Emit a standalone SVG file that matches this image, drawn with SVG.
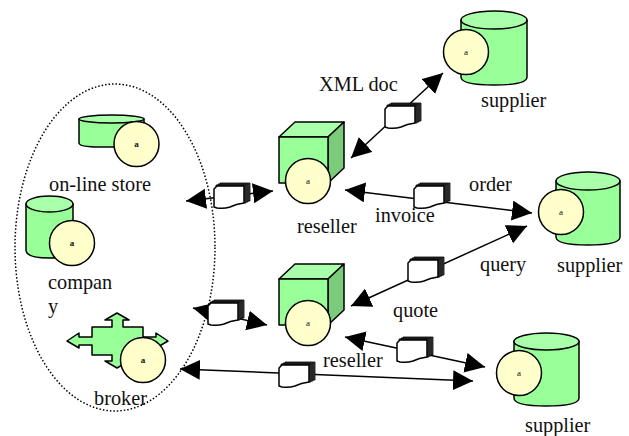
<svg xmlns="http://www.w3.org/2000/svg" width="629" height="436" viewBox="0 0 629 436">
<style>
text{font-family:"Liberation Serif","Times New Roman",serif;font-size:20.300px;fill:#111}
.a{font-size:9px;text-anchor:middle}
.b{fill:#99ff99;stroke:#000;stroke-width:1.5;stroke-linejoin:round}
.t{fill:#aaffaa;stroke:#000;stroke-width:1.5;stroke-linejoin:round}
.s{fill:#7acc7a;stroke:#000;stroke-width:1.5;stroke-linejoin:round}
.c{fill:#ffffcc;stroke:#000;stroke-width:1.500}
.l{fill:none;stroke:#000;stroke-width:1.500;marker-start:url(#h);marker-end:url(#h)}
.d{fill:#444;stroke:#000;stroke-width:.8}
</style>
<defs>
<marker id="h" markerUnits="userSpaceOnUse" markerWidth="22" markerHeight="22" refX="20" refY="10" orient="auto-start-reverse" viewBox="0 0 22 22"><path d="M0 0L20 10L0 20Z" fill="#000"/></marker>
<g id="doc">
<path class="d" d="M6 0H36V18H6Z"/>
<path class="d" d="M4 1H34V19H4Z"/>
<path class="d" d="M2 2H32V20H2Z"/>
<path d="M0 6L3 3H30V20Q22 21 16 24Q10 26 3 25L0 24Z" fill="#fff" stroke="#000" stroke-width="1.500" stroke-linejoin="round"/>
</g>
</defs>
<ellipse id="boundary" cx="115" cy="247.500" rx="100" ry="163.500" fill="none" stroke="#000" stroke-width="1.500" stroke-dasharray="1.500 2"/>
<g id="connectors">
<line class="l" x1="351" y1="158" x2="443" y2="73"/>
<line class="l" x1="186" y1="201" x2="273" y2="191"/>
<line class="l" x1="345" y1="190" x2="532" y2="213"/>
<line class="l" x1="351" y1="306" x2="527" y2="226"/>
<line class="l" x1="193" y1="308" x2="267" y2="325"/>
<line class="l" x1="345" y1="337" x2="485" y2="367"/>
<line class="l" x1="180" y1="369" x2="473" y2="381"/>
<use href="#doc" x="385" y="103"/>
<use href="#doc" x="214" y="183"/>
<use href="#doc" x="414" y="183"/>
<use href="#doc" x="208" y="300"/>
<use href="#doc" x="408" y="257"/>
<use href="#doc" x="397" y="337"/>
<use href="#doc" x="279" y="362"/>
</g>
<g id="online-store">
<path class="b" d="M79 119V143Q79 147 100 147H144V119Z"/>
<ellipse class="t" cx="111.500" cy="119" rx="32.500" ry="4"/>
<circle class="c" cx="136.500" cy="144" r="22.500"/>
<text class="a" x="136.500" y="147" font-weight="bold">a</text>
<text x="49" y="191">on-line store</text>
</g>
<g id="company">
<path class="b" d="M26 204V250Q26 258 49 258Q73 258 73 250V204Z"/>
<ellipse class="t" cx="49.500" cy="204" rx="23.500" ry="8"/>
<circle class="c" cx="72" cy="243" r="22.500"/>
<text class="a" x="72" y="246" font-weight="bold">a</text>
<text x="48" y="289">compan</text>
<text x="48" y="313">y</text>
</g>
<g id="broker">
<path class="b" d="M117 313L129 320H123V327H143V337H156V333L168 341L156 348V345H143V355H123V361H129L117 368L105 361H112V355H92V345H79V348L67 341L79 333V337H92V327H112V320H105Z"/>
<circle class="c" cx="143" cy="360" r="22.500"/>
<text class="a" x="143" y="363" font-weight="bold">a</text>
<text x="94" y="405">broker</text>
</g>
<g id="reseller-1">
<path class="t" d="M279 137L295 122H344L328 137Z"/>
<path class="s" d="M328 137L344 122V168L328 183Z"/>
<rect class="b" x="279" y="137" width="49" height="46"/>
<circle class="c" cx="308" cy="181" r="22.500"/>
<text class="a" x="308" y="184">a</text>
<text x="297" y="233">reseller</text>
</g>
<g id="reseller-2">
<path class="t" d="M279 279L295 264H344L328 279Z"/>
<path class="s" d="M328 279L344 264V310L328 325Z"/>
<rect class="b" x="279" y="279" width="49" height="46"/>
<circle class="c" cx="308" cy="323" r="22.500"/>
<text class="a" x="308" y="326">a</text>
<text x="323" y="367">reseller</text>
</g>
<g id="supplier-1">
<path class="b" d="M461 20V77Q461 85 494 85Q527 85 527 77V20Z"/>
<ellipse class="t" cx="494" cy="20" rx="33" ry="9"/>
<circle class="c" cx="466" cy="52" r="22.500"/>
<text class="a" x="466" y="55">a</text>
<text x="481" y="107">supplier</text>
</g>
<g id="supplier-2">
<path class="b" d="M556 181V237Q556 245 588 245Q620 245 620 237V181Z"/>
<ellipse class="t" cx="588" cy="181" rx="32" ry="9"/>
<circle class="c" cx="561" cy="212" r="22.500"/>
<text class="a" x="561" y="215">a</text>
<text x="557" y="272">supplier</text>
</g>
<g id="supplier-3">
<path class="b" d="M514 341V398Q514 406 546 406Q579 406 579 398V341Z"/>
<ellipse class="t" cx="546.500" cy="341.500" rx="32.500" ry="8.500"/>
<circle class="c" cx="519" cy="373" r="22.500"/>
<text class="a" x="519" y="376">a</text>
<text x="525" y="432">supplier</text>
</g>
<g id="labels">
<text x="319" y="91">XML doc</text>
<text x="375" y="222">invoice</text>
<text x="469" y="191">order</text>
<text x="480" y="271">query</text>
<text x="393" y="317">quote</text>
</g>
</svg>
